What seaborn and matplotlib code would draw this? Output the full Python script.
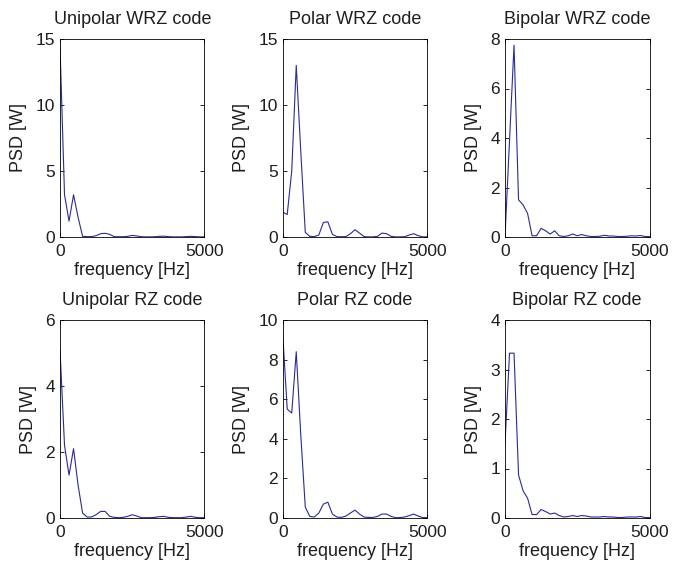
import numpy as np
import pandas as pd
import matplotlib
matplotlib.use("Agg")
import matplotlib.pyplot as plt
import seaborn as sns

freq = [k * 156.25 for k in range(33)]

titles = ["Unipolar WRZ code", "Polar WRZ code", "Bipolar WRZ code",
          "Unipolar RZ code", "Polar RZ code", "Bipolar RZ code"]

unipolar_wrz = [14.5, 3.2, 1.2, 3.2, 1.5, 0.05, 0.03, 0.03, 0.1, 0.25, 0.28, 0.2, 0.03,
                0.02, 0.02, 0.05, 0.12, 0.08, 0.02, 0.01, 0.01, 0.02, 0.05, 0.06, 0.03,
                0.01, 0.01, 0.01, 0.03, 0.05, 0.03, 0.01, 0.01]
polar_wrz = [1.9, 1.7, 5.0, 13.0, 6.5, 0.35, 0.05, 0.03, 0.15, 1.1, 1.15, 0.2, 0.03,
             0.02, 0.03, 0.25, 0.55, 0.3, 0.03, 0.01, 0.01, 0.05, 0.3, 0.25, 0.05,
             0.01, 0.01, 0.02, 0.15, 0.25, 0.1, 0.01, 0.01]
bipolar_wrz = [0.0, 3.9, 7.75, 1.5, 1.3, 0.95, 0.05, 0.05, 0.35, 0.25, 0.12, 0.25, 0.05,
               0.02, 0.05, 0.12, 0.05, 0.1, 0.05, 0.02, 0.02, 0.03, 0.07, 0.04, 0.04,
               0.02, 0.02, 0.03, 0.05, 0.04, 0.06, 0.02, 0.02]
unipolar_rz = [5.1, 2.2, 1.3, 2.1, 1.0, 0.15, 0.03, 0.03, 0.1, 0.2, 0.2, 0.05, 0.02,
               0.01, 0.02, 0.05, 0.1, 0.06, 0.01, 0.01, 0.01, 0.02, 0.04, 0.05, 0.02,
               0.01, 0.01, 0.01, 0.03, 0.05, 0.02, 0.01, 0.01]
polar_rz = [9.3, 5.5, 5.3, 8.4, 4.2, 0.55, 0.08, 0.05, 0.25, 0.7, 0.8, 0.2, 0.05,
            0.03, 0.1, 0.25, 0.4, 0.2, 0.05, 0.03, 0.03, 0.08, 0.2, 0.2, 0.08,
            0.02, 0.02, 0.05, 0.12, 0.2, 0.1, 0.02, 0.02]
bipolar_rz = [1.5, 3.33, 3.33, 0.87, 0.55, 0.4, 0.07, 0.07, 0.17, 0.13, 0.08, 0.1, 0.05,
              0.02, 0.03, 0.05, 0.03, 0.05, 0.04, 0.02, 0.02, 0.02, 0.03, 0.02, 0.02,
              0.01, 0.01, 0.02, 0.02, 0.02, 0.03, 0.01, 0.01]

series = [unipolar_wrz, polar_wrz, bipolar_wrz, unipolar_rz, polar_rz, bipolar_rz]
ylims = [(0, 15), (0, 15), (0, 8), (0, 6), (0, 10), (0, 4)]
yticks = [[0, 5, 10, 15], [0, 5, 10, 15], [0, 2, 4, 6, 8],
          [0, 2, 4, 6], [0, 2, 4, 6, 8, 10], [0, 1, 2, 3, 4]]
xticks = [0, 5000]

sns.set_theme(style="white")
plt.rcParams['font.family'] = ['Liberation Sans', 'DejaVu Sans']

W, H = 673, 572
fig = plt.figure(figsize=(W / 100, H / 100), dpi=100)

lefts = [60, 282.7, 505]
tops = [39, 320]
aw, ah = 144.5, 198

text_color = '#1e1e1e'
line_color = '#2a2a9a'
for i, (title, vals) in enumerate(zip(titles, series)):
    r, c = divmod(i, 3)
    ax = fig.add_axes([lefts[c] / W, 1 - (tops[r] + ah) / H, aw / W, ah / H])
    df = pd.DataFrame({"freq": freq, "psd": vals})
    sns.lineplot(data=df, x="freq", y="psd", ax=ax, color=line_color, linewidth=0.8)
    ax.set_xlim(0, 5000)
    ax.set_ylim(*ylims[i])
    ax.set_xticks(xticks)
    ax.set_xticklabels([str(t) for t in xticks])
    ax.set_yticks(yticks[i])
    ax.set_yticklabels([str(t) for t in yticks[i]])
    ax.tick_params(direction='in', length=3, width=0.6, top=True, right=True,
                   bottom=True, left=True, labelsize=12.5, color='black',
                   labelcolor=text_color)
    ax.tick_params(axis='x', pad=5)
    ax.tick_params(axis='y', pad=3.5)
    for sp in ax.spines.values():
        sp.set_visible(True)
        sp.set_color('black')
        sp.set_linewidth(0.6)
    ax.set_xlabel("frequency [Hz]", fontsize=13, color=text_color, labelpad=2)
    ax.set_ylabel("PSD [W]", fontsize=13, color=text_color, labelpad=6)
    ax.set_title(title, fontsize=13, color=text_color, pad=10.5)
    ax.grid(False)

fig.savefig("out.png", dpi=100, facecolor='white')
